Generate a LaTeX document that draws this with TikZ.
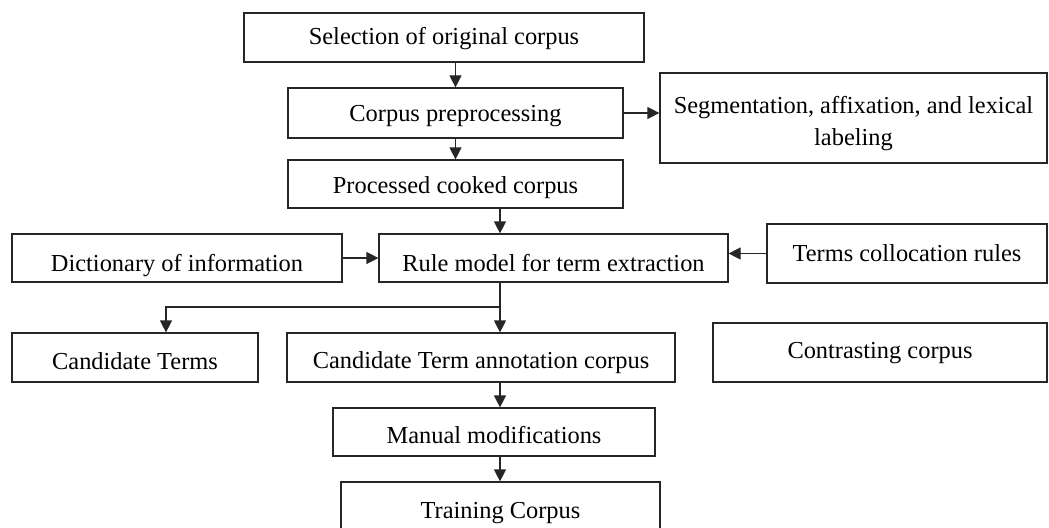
\documentclass[tikz,border=0pt]{standalone}
\usepackage{fontspec}
\setmainfont{Liberation Serif}
\usetikzlibrary{arrows.meta}
\begin{document}
\begin{tikzpicture}[x=0.75pt,y=-0.75pt,
  box/.style={draw=black!85, line width=0.9pt, inner sep=0pt, align=center,
    font=\fontsize{18.3}{24}\selectfont},
  bl/.style={text height=#1*1.5pt, text depth=0pt},
  conn/.style={line width=0.9pt, draw=black!85},
  arr/.style={conn, -{Triangle[length=9pt,width=9pt]}}]
\useasboundingbox (0,0) rectangle (1049,528);
\node[box, bl=7.5, minimum width=300pt, minimum height=36.75pt] (b1) at (444,37.5) {Selection of original corpus};
\node[box, bl=8, minimum width=251.25pt, minimum height=37.5pt] (b2) at (455.5,113) {Corpus preprocessing};
\node[box, minimum width=290.25pt, minimum height=67.5pt] (b3) at (853.5,118) {\rule{0pt}{21pt}Segmentation, affixation, and lexical\\labeling};
\node[box, bl=9, minimum width=251.25pt, minimum height=36pt] (b4) at (455.5,184) {Processed cooked corpus};
\node[box, bl=13, minimum width=247.5pt, minimum height=36pt] (b5) at (177,258) {Dictionary of information};
\node[box, bl=13, minimum width=261.75pt, minimum height=36pt] (b6) at (553.5,258) {Rule model for term extraction};
\node[box, bl=7.5, minimum width=210pt, minimum height=44.25pt] (b7) at (907,253.5) {Terms collocation rules};
\node[box, bl=11.5, minimum width=184.5pt, minimum height=36.75pt] (b8) at (135,357.5) {Candidate Terms};
\node[box, bl=10.5, minimum width=291pt, minimum height=36.75pt] (b9) at (481,357.5) {Candidate Term annotation corpus};
\node[box, bl=5.5, minimum width=250.5pt, minimum height=44.25pt] (b10) at (880,352.5) {Contrasting corpus};
\node[box, bl=11, minimum width=241.5pt, minimum height=36pt] (b11) at (494,432) {Manual modifications};
\node[box, bl=4.5, minimum width=239.25pt, minimum height=47.25pt] (b12) at (500.5,513.5) {Training Corpus};
\coordinate (tx) at (500,0);
\coordinate (br) at (500,307);
\coordinate (cl) at (166,307);
\draw[arr] (b2.north |- b1.south) -- (b2.north);
\draw[arr] (b2.south) -- (b4.north);
\draw[arr] (b2.east) -- (b2.east -| b3.west);
\draw[arr] (tx |- b4.south) -- (tx |- b6.north);
\draw[arr] (b5.east) -- (b5.east -| b6.west);
\draw[arr] (b7.west) -- (b7.west -| b6.east);
\draw[arr] (tx |- b6.south) -- (tx |- b9.north);
\draw[arr] (br) -- (cl) -- (cl |- b8.north);
\draw[arr] (tx |- b9.south) -- (tx |- b11.north);
\draw[arr] (tx |- b11.south) -- (tx |- b12.north);
\end{tikzpicture}
\end{document}
